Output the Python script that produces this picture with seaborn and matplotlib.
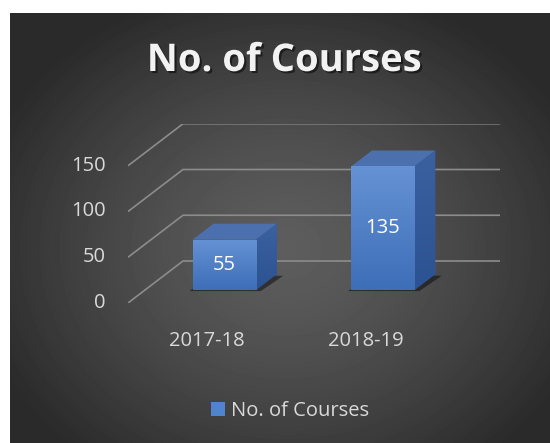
import numpy as np
import matplotlib
matplotlib.use("Agg")
import matplotlib.pyplot as plt
import matplotlib.patheffects as pe
from matplotlib.patches import Polygon, Patch
from matplotlib.colors import LinearSegmentedColormap
import seaborn as sns

# data
categories = ["2017-18", "2018-19"]
courses = [55, 135]
y_ticks = [0, 50, 100, 150]
series_name = "No. of Courses"
title = "No. of Courses"

sns.set_theme(style="white")
plt.rcParams["font.family"] = ["Open Sans", "DejaVu Sans"]

W, H = 550, 443
fig = plt.figure(figsize=(W / 100, H / 100), dpi=100, facecolor="white")

# dark radial background (chart area leaves a white strip left/top)
bg = fig.add_axes([10 / W, 0, 540 / W, 430 / H])
yy, xx = np.mgrid[0:430, 0:540]
r = np.hypot((xx - 275) / 320, (yy - 235) / 270)
shade = 0.365 - 0.20 * np.clip(r, 0, 1) ** 1.4
bg.imshow(shade, cmap="gray", vmin=0, vmax=1, aspect="auto", interpolation="bilinear")
bg.set_axis_off()

# 3d-ish plot area
ax = fig.add_axes([128 / W, (H - 303) / H, 372 / W, 179 / H])
ax.set_facecolor("none")
DX, DY = 0.347, 45.9   # depth offset of back wall (category units, value units)
DF, BD = 0.31, 0.38    # bar front depth, bar depth


def fill_gradient(patch, c_top, c_bot, extent, z):
    cmap = LinearSegmentedColormap.from_list("g", [c_bot, c_top])
    arr = np.linspace(0, 1, 64).reshape(-1, 1)
    img = ax.imshow(arr, cmap=cmap, extent=extent, origin="lower",
                    aspect="auto", zorder=z, interpolation="bilinear")
    img.set_clip_path(patch)


# gridlines: front-left diagonal + back wall
for v in y_ticks:
    ax.plot([-0.5, -0.5 + DX, 1.5 + DX], [v, v + DY, v + DY],
            color="#8c8c8c", lw=1.2, solid_capstyle="butt", zorder=1)

sns.barplot(x=categories, y=courses, width=0.4, color="#4a7cc4", saturation=1,
            errorbar=None, ax=ax, zorder=4)

bars = list(ax.patches)
for p, val in zip(bars, courses):
    x0 = p.get_x() + DF * DX
    w = p.get_width()
    y0 = DF * DY
    top = y0 + val
    p.set_x(x0)
    p.set_y(y0)
    p.set_edgecolor("none")

    # floor shadow
    sh = Polygon([(x0 - 0.02, y0 - 1.2), (x0 + w + 0.03, y0 - 1.2),
                  (x0 + w + BD * DX + 0.04, y0 + BD * DY - 2),
                  (x0 + BD * DX, y0 + BD * DY)],
                 closed=True, facecolor="black", edgecolor="none", alpha=0.45, zorder=2)
    ax.add_patch(sh)

    fill_gradient(p, "#6592d4", "#3d6eb8", (x0, x0 + w, y0, top), 4.5)

    side = Polygon([(x0 + w, y0), (x0 + w, top),
                    (x0 + w + BD * DX, top + BD * DY), (x0 + w + BD * DX, y0 + BD * DY)],
                   closed=True, facecolor="#305a9c", edgecolor="none", zorder=3)
    ax.add_patch(side)
    fill_gradient(side, "#3c619f", "#2b5292",
                  (x0 + w, x0 + w + BD * DX, y0, top + BD * DY), 3.5)

    topf = Polygon([(x0, top), (x0 + w, top),
                    (x0 + w + BD * DX, top + BD * DY), (x0 + BD * DX, top + BD * DY)],
                   closed=True, facecolor="#4c70ae", edgecolor="none", zorder=3)
    ax.add_patch(topf)

    ax.text(x0 + w / 2, y0 + val / 2, str(val), ha="center", va="center",
            fontsize=14.5, color="white", zorder=6)

for v in y_ticks:
    ax.annotate(str(v), xy=(-0.5, v), xytext=(-16, 0), textcoords="offset points",
                ha="right", va="center", fontsize=14.5, color="#d9d9d9")

for i, cat in enumerate(categories):
    ax.annotate(cat, xy=(i, 0), xytext=(0, -27), textcoords="offset points",
                ha="center", va="center", fontsize=14.5, color="#d9d9d9")

ax.set_xlim(-0.5, -0.5 + 372 / 158.5)
ax.set_ylim(0, 179 / 0.915)
ax.set_axis_off()

fig.text(284.5 / W, 1 - 61 / H, title, ha="center", va="center", fontsize=27.5,
         fontweight="bold", color="#f2f2f2",
         path_effects=[pe.withSimplePatchShadow(offset=(1.5, -1.5), shadow_rgbFace="black", alpha=0.5)])

fig.legend(handles=[Patch(facecolor="#4f84cf", edgecolor="none", label=series_name)],
           loc="center", bbox_to_anchor=(290 / W, 1 - 410.7 / H), frameon=False,
           fontsize=14.5, handlelength=0.7, handleheight=0.7, handletextpad=0.3,
           labelcolor="#d9d9d9", borderpad=0, borderaxespad=0)

fig.savefig("out.png", dpi=100, facecolor="white")
